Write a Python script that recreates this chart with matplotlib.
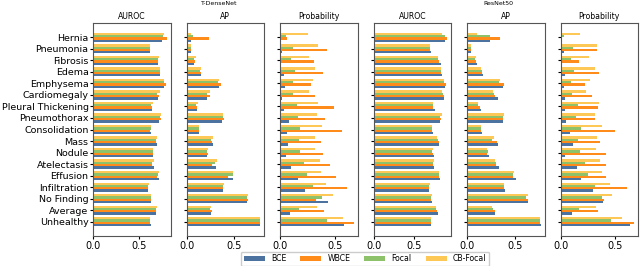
import matplotlib
matplotlib.use('Agg')
import matplotlib.pyplot as plt
import numpy as np

categories = ['Hernia', 'Pneumonia', 'Fibrosis', 'Edema', 'Emphysema', 'Cardiomegaly',
              'Pleural Thickening', 'Pneumothorax', 'Consolidation', 'Mass', 'Nodule',
              'Atelectasis', 'Effusion', 'Infiltration', 'No Finding', 'Average', 'Unhealthy']
losses = ['BCE', 'WBCE', 'Focal', 'CB-Focal']
colors = ['#4c72a0', '#ff8c1a', '#8dc26b', '#fdc855']

# T-DenseNet
dn_auroc_bce = [0.75, 0.615, 0.70, 0.73, 0.77, 0.70, 0.634, 0.72, 0.627, 0.69, 0.645, 0.656, 0.717, 0.598, 0.627, 0.68, 0.624]
dn_auroc_wbce = [0.80, 0.615, 0.70, 0.73, 0.79, 0.72, 0.637, 0.74, 0.62, 0.685, 0.645, 0.64, 0.69, 0.598, 0.627, 0.685, 0.62]
dn_auroc_focal = [0.757, 0.62, 0.70, 0.73, 0.77, 0.69, 0.63, 0.73, 0.627, 0.685, 0.645, 0.64, 0.707, 0.598, 0.627, 0.685, 0.62]
dn_auroc_cb = [0.772, 0.62, 0.71, 0.73, 0.77, 0.73, 0.649, 0.74, 0.627, 0.69, 0.65, 0.66, 0.714, 0.605, 0.627, 0.69, 0.62]

dn_ap_bce = [0.048, 0.048, 0.076, 0.15, 0.34, 0.213, 0.11, 0.375, 0.134, 0.278, 0.21, 0.306, 0.49, 0.385, 0.632, 0.254, 0.763]
dn_ap_wbce = [0.23, 0.048, 0.09, 0.15, 0.364, 0.25, 0.11, 0.39, 0.134, 0.265, 0.22, 0.268, 0.436, 0.378, 0.64, 0.265, 0.763]
dn_ap_focal = [0.066, 0.048, 0.082, 0.144, 0.33, 0.213, 0.103, 0.385, 0.134, 0.258, 0.213, 0.302, 0.488, 0.378, 0.636, 0.247, 0.763]
dn_ap_cb = [0.048, 0.048, 0.096, 0.15, 0.34, 0.25, 0.12, 0.385, 0.134, 0.275, 0.223, 0.316, 0.48, 0.388, 0.64, 0.258, 0.77]

dn_prob_bce = [0.004, 0.015, 0.01, 0.036, 0.045, 0.018, 0.033, 0.079, 0.06, 0.07, 0.054, 0.1, 0.167, 0.224, 0.433, 0.091, 0.579]
dn_prob_wbce = [0.06, 0.427, 0.31, 0.394, 0.282, 0.321, 0.494, 0.412, 0.567, 0.376, 0.388, 0.454, 0.506, 0.609, 0.33, 0.397, 0.673]
dn_prob_focal = [0.051, 0.115, 0.103, 0.133, 0.12, 0.115, 0.155, 0.16, 0.18, 0.17, 0.18, 0.215, 0.242, 0.3, 0.379, 0.173, 0.427]
dn_prob_cb = [0.255, 0.348, 0.264, 0.321, 0.3, 0.267, 0.345, 0.333, 0.385, 0.315, 0.315, 0.367, 0.373, 0.421, 0.479, 0.339, 0.573]

# ResNet50
rn_auroc_bce = [0.874, 0.711, 0.825, 0.837, 0.882, 0.862, 0.756, 0.821, 0.736, 0.805, 0.744, 0.744, 0.817, 0.687, 0.724, 0.789, 0.711]
rn_auroc_wbce = [0.907, 0.695, 0.805, 0.833, 0.894, 0.862, 0.736, 0.825, 0.72, 0.801, 0.728, 0.736, 0.801, 0.687, 0.711, 0.776, 0.703]
rn_auroc_focal = [0.874, 0.695, 0.797, 0.833, 0.87, 0.858, 0.732, 0.821, 0.72, 0.789, 0.716, 0.736, 0.801, 0.679, 0.707, 0.772, 0.703]
rn_auroc_cb = [0.845, 0.695, 0.789, 0.833, 0.862, 0.841, 0.728, 0.837, 0.72, 0.78, 0.728, 0.744, 0.809, 0.691, 0.716, 0.772, 0.703]

rn_ap_bce = [0.243, 0.045, 0.1, 0.17, 0.372, 0.323, 0.142, 0.382, 0.156, 0.32, 0.233, 0.34, 0.517, 0.403, 0.635, 0.292, 0.774]
rn_ap_wbce = [0.344, 0.045, 0.09, 0.16, 0.392, 0.288, 0.135, 0.382, 0.146, 0.309, 0.212, 0.302, 0.479, 0.392, 0.642, 0.288, 0.767]
rn_ap_focal = [0.24, 0.045, 0.083, 0.156, 0.33, 0.285, 0.111, 0.378, 0.146, 0.264, 0.215, 0.302, 0.486, 0.385, 0.618, 0.274, 0.767]
rn_ap_cb = [0.108, 0.045, 0.094, 0.142, 0.347, 0.271, 0.118, 0.392, 0.142, 0.281, 0.205, 0.292, 0.493, 0.392, 0.642, 0.264, 0.767]

rn_prob_bce = [0.004, 0.027, 0.01, 0.039, 0.027, 0.042, 0.039, 0.054, 0.09, 0.112, 0.045, 0.151, 0.188, 0.291, 0.39, 0.1, 0.633]
rn_prob_wbce = [0.01, 0.33, 0.17, 0.354, 0.221, 0.287, 0.339, 0.312, 0.497, 0.36, 0.418, 0.412, 0.418, 0.603, 0.394, 0.342, 0.672]
rn_prob_focal = [0.03, 0.112, 0.094, 0.127, 0.094, 0.106, 0.157, 0.139, 0.185, 0.157, 0.176, 0.224, 0.248, 0.312, 0.375, 0.17, 0.463]
rn_prob_cb = [0.176, 0.336, 0.26, 0.315, 0.27, 0.23, 0.351, 0.312, 0.381, 0.33, 0.321, 0.357, 0.375, 0.448, 0.472, 0.327, 0.563]

panels = [
    ('AUROC', [dn_auroc_bce, dn_auroc_wbce, dn_auroc_focal, dn_auroc_cb]),
    ('AP', [dn_ap_bce, dn_ap_wbce, dn_ap_focal, dn_ap_cb]),
    ('Probability', [dn_prob_bce, dn_prob_wbce, dn_prob_focal, dn_prob_cb]),
    ('AUROC', [rn_auroc_bce, rn_auroc_wbce, rn_auroc_focal, rn_auroc_cb]),
    ('AP', [rn_ap_bce, rn_ap_wbce, rn_ap_focal, rn_ap_cb]),
    ('Probability', [rn_prob_bce, rn_prob_wbce, rn_prob_focal, rn_prob_cb]),
]

fig, axes = plt.subplots(1, 6, figsize=(6.4, 2.66), dpi=100, sharey=True)
fig.subplots_adjust(left=0.1453, right=0.997, top=0.9135, bottom=0.1128, wspace=0.206)

y = np.arange(len(categories))
h = 0.2
# BCE at the bottom of each group, CB-Focal on top
offsets = [1.5 * h, 0.5 * h, -0.5 * h, -1.5 * h]

for ax, (title, series) in zip(axes, panels):
    for vals, off, col, lab in zip(series, offsets, colors, losses):
        ax.barh(y + off, vals, height=h, color=col, label=lab)
    ax.set_title(title, fontsize=5.6, pad=3)
    ax.set_xticks([0.0, 0.5])
    ax.set_xticklabels(['0.0', '0.5'])
    ax.tick_params(axis='x', labelsize=7, length=2.5, pad=1)
    ax.tick_params(axis='y', labelsize=6.8, length=2, pad=1.2)
    for sp in ax.spines.values():
        sp.set_color('#555555')

axes[0].set_yticks(y)
axes[0].set_yticklabels(categories)
axes[0].invert_yaxis()

fig.text(219 / 640, 0.985, 'T-DenseNet', ha='center', va='center', fontsize=4.5)
fig.text(498 / 640, 0.985, 'ResNet50', ha='center', va='center', fontsize=4.5)

handles, labels = axes[0].get_legend_handles_labels()
fig.legend(handles, labels, loc='lower center', bbox_to_anchor=(365 / 640, -0.015),
           ncol=4, fontsize=5.6, handlelength=2.7, handletextpad=0.8,
           columnspacing=1.8, borderpad=0.35, framealpha=1, fancybox=True)

fig.savefig('out.png', dpi=100)
